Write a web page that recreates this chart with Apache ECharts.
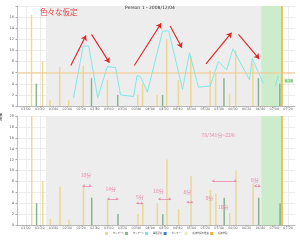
<!DOCTYPE html>
<html><head><meta charset="utf-8">
<script src="https://cdn.jsdelivr.net/npm/echarts@6/dist/echarts.min.js"></script>
<style>html,body{margin:0;padding:0;background:#fff}#c{width:300px;height:241px}</style>
</head><body><div id="c"></div>
<script>
// ---- data ----
const tickLabels = ['01:00','01:20','01:40','02:00','02:20','02:40','03:00','03:20','03:40','04:00','04:20','04:40','05:00','05:20','05:40','06:00','06:20','06:40','07:00','07:20'];
const xStart = '00:47', xEnd = '07:30';
const sleepStart = '01:29', wakeStart = '06:41', wakeEnd = '07:11';
const threshold = 6;
const sensor1 = [['01:08',16.4],['01:24',8],['01:35',1.1],['01:49',7],['02:02',1],['02:23',7.2],['02:58',4.7],['03:42',2],['03:49',4],['04:10',2],['04:24',12],['04:41',4.7],['04:59',9],['05:27',6.4],['05:35',5.8],['05:55',2.2],['06:04',10],['06:29',7.6]];
const sensor1Bottom = [['01:08',21],['01:24',8],['01:35',1.1],['01:49',7],['02:02',1],['02:23',7.2],['02:58',4.7],['03:42',2],['03:49',4],['04:10',4],['04:24',12],['04:41',2.9],['04:59',9],['05:27',6.4],['05:35',5.8],['05:55',2.2],['06:04',10],['06:29',7.6]];
const sensor2 = [['01:15',4],['02:35',5],['03:13',2],['04:18',2],['05:47',5],['06:37',5],['07:08',4]];
const depth = [['02:09',1.5],['02:23',10.8],['02:31',10.8],['02:44',1.5],['02:58',7.1],['03:10',6.9],['03:17',2],['03:36',1.7],['03:41',5.5],['03:46',5.3],['03:56',2.5],['04:18',13.5],['04:27',13.5],['04:47',3],['04:57',9.6],['05:10',3.4],['05:27',3.6],['05:39',8],['05:51',6.5],['06:00',10.3],['06:24',4.7],['06:28',8.5],['06:44',4.1],null,['07:01',3.5],['07:06',5.5]];
const endTag = ['07:21', 4.5, '6.28'];
const redArrows = [[['02:05',7.3],['02:27',12.7]],[['02:35',12.9],['03:01',7.8]],[['03:37',7.3],['04:16',14.9]],[['04:29',14.4],['04:46',10.5]],[['05:21',7.6],['05:58',13.2]],[['06:08',12.9],['06:38',8.5]]];
const gapArrows = [[['02:22',7.2],['02:35',7.2]],[['02:58',4.8],['03:14',4.8]],[['03:40',4.0],['03:50',4.0]],[['04:12',4.8],['04:30',4.8]],[['04:53',4.2],['05:02',4.2]],[['05:30',8.1],['06:05',8.1]],[['06:31',7.2],['06:40',7.2]]];
const gapLabels = [['02:27',9.2,'10分'],['03:03',6.6,'14分'],['03:45',5.1,'5分'],['04:12',6.3,'18分'],['04:54',6.1,'8分'],['05:26',5.0,'8分'],['05:46',3.3,'10分'],['06:32',8.3,'8分'],['05:39',16.5,'78/341分=22%']];
const legendNames = ['センサー1','センサー2','睡眠深度','センサー―','起床時間の推移','起床時間'];

// ---- helpers ----
const toMin = s => { const p = s.split(':'); return (+p[0])*60 + (+p[1]); };
const fmt = v => { const h = Math.floor(v/60), m = Math.round(v%60); return String(h).padStart(2,'0')+':'+String(m).padStart(2,'0'); };
const pts = arr => arr.map(d => d ? [toMin(d[0]), d[1]] : null);
const tickVals = tickLabels.map(toMin);

const chart = echarts.init(document.getElementById('c'));
const grids = [
  {left:17, right:5, top:6, height:100},
  {left:17, right:5, top:116, height:109}
];
function xAxis(i){
  return {type:'value', gridIndex:i, min:toMin(xStart), max:toMin(xEnd),
    axisLine:{lineStyle:{color:'#aaa', width:0.8}},
    axisTick:{show:true, customValues:tickVals, length:1.5, lineStyle:{color:'#aaa'}},
    axisLabel:{customValues:tickVals, formatter:fmt, fontSize:3.3, color:'#555', margin:2, fontFamily:'DejaVu Sans', hideOverlap:false},
    splitLine:{show:true, lineStyle:{color:'#e0e0e0', width:0.6}}};
}
function yAxis(i, max){
  return {type:'value', gridIndex:i, min:0, max:max, interval:2,
    axisLine:{show:true, lineStyle:{color:'#aaa', width:0.8}},
    axisTick:{show:true, length:1.5, lineStyle:{color:'#aaa'}},
    axisLabel:{fontSize:3.5, color:'#555', margin:3, fontFamily:'DejaVu Sans', formatter: v => (max===18 && v===18) ? '' : String(v)},
    splitLine:{show:true, lineStyle:{color:'#e0e0e0', width:0.6}}};
}
function bgSeries(i){
  return {type:'line', xAxisIndex:i, yAxisIndex:i, data:[], z:-1, silent:true,
    markArea:{silent:true, data:[
      [{xAxis:toMin(sleepStart), itemStyle:{color:'#ededed'}},{xAxis:toMin(wakeStart)}],
      [{xAxis:toMin(wakeStart), itemStyle:{color:'#cdeccb'}},{xAxis:toMin(wakeEnd)}]
    ]},
    markLine:{silent:true, symbol:'none', label:{show:false}, lineStyle:{color:'#f0b030', width:1.5, type:'solid'},
      data:[{xAxis:toMin(wakeEnd)}]}
  };
}
const barCommon = {type:'bar', barWidth:1.5, barGap:'-100%', silent:true};
const series = [
  bgSeries(0), bgSeries(1),
  Object.assign({}, barCommon, {name:legendNames[0], xAxisIndex:0, yAxisIndex:0, data:pts(sensor1), itemStyle:{color:'#ecd382', opacity:0.85}}),
  Object.assign({}, barCommon, {name:legendNames[1], xAxisIndex:0, yAxisIndex:0, data:pts(sensor2), itemStyle:{color:'#74a87c', opacity:0.85}}),
  Object.assign({}, barCommon, {name:legendNames[0], xAxisIndex:1, yAxisIndex:1, data:pts(sensor1Bottom), itemStyle:{color:'#ecd382', opacity:0.85}}),
  Object.assign({}, barCommon, {name:legendNames[1], xAxisIndex:1, yAxisIndex:1, data:pts(sensor2), itemStyle:{color:'#74a87c', opacity:0.85}}),
  {type:'line', name:legendNames[2], xAxisIndex:0, yAxisIndex:0, data:pts(depth), symbol:'none', connectNulls:false,
   lineStyle:{color:'#74e6e6', width:0.9}, itemStyle:{color:'#74e6e6'}, silent:true,
   markLine:{silent:true, symbol:'none', label:{show:false}, lineStyle:{color:'#f5c98a', width:1.6, type:'solid', opacity:0.7},
     data:[{yAxis:threshold}]},
   markPoint:{silent:true, symbol:'rect', symbolSize:[9,4.5], itemStyle:{color:'#c5ecc5'},
     label:{show:true, color:'#3a9a3a', fontSize:3.5, formatter: p => p.name, fontFamily:'DejaVu Sans'},
     data:[{name:endTag[2], coord:[toMin(endTag[0]), endTag[1]]}]}},
  {type:'line', name:'arrows', xAxisIndex:0, yAxisIndex:0, data:[], silent:true,
   markLine:{silent:true, symbol:['none','arrow'], symbolSize:5, label:{show:false}, lineStyle:{color:'#e02424', width:1.1, type:'solid'},
     data: redArrows.map(a => [{coord:[toMin(a[0][0]),a[0][1]]},{coord:[toMin(a[1][0]),a[1][1]]}])}},
  {type:'line', name:'gaps', xAxisIndex:1, yAxisIndex:1, data:[], silent:true,
   markLine:{silent:true, symbol:['arrow','arrow'], symbolSize:2.5, label:{show:false}, lineStyle:{color:'#e88aa8', width:0.8, type:'solid'},
     data: gapArrows.map(a => [{coord:[toMin(a[0][0]),a[0][1]]},{coord:[toMin(a[1][0]),a[1][1]]}])},
   markPoint:{silent:true, symbol:'circle', symbolSize:0,
     label:{show:true, color:'#e88aa8', fontSize:5, formatter: p => p.name, fontFamily:'Noto Sans CJK JP'},
     data: gapLabels.map(g => ({name:g[2], coord:[toMin(g[0]), g[1]]}))}},
  {type:'bar', name:legendNames[3], xAxisIndex:1, yAxisIndex:1, data:[], itemStyle:{color:'#3a7fd0'}},
  {type:'line', name:legendNames[4], xAxisIndex:1, yAxisIndex:1, data:[], itemStyle:{color:'#f3e7c6'}},
  {type:'bar', name:legendNames[5], xAxisIndex:1, yAxisIndex:1, data:[], itemStyle:{color:'#f0b030'}}
];
chart.setOption({
  animation:false,
  backgroundColor:'#fff',
  title:{text:'Person 1 - 2008/12/04', left:'center', top:0, textStyle:{fontSize:4.5, fontWeight:'normal', color:'#333', fontFamily:'DejaVu Sans'}},
  legend:{data:legendNames.map(n=>({name:n, icon:'rect'})), bottom:1, left:100, itemWidth:3, itemHeight:3, itemGap:1.5,
    textStyle:{fontSize:2.3, color:'#555', fontFamily:'Noto Sans CJK JP'}},
  graphic:[
    {type:'text', x:40, y:8, z:100, style:{text:'色々な仮定', fill:'#e04848', fontSize:7.5, fontFamily:'Noto Sans CJK JP'}},
    {type:'text', x:2, y:113, z:100, rotation:-Math.PI/2, style:{text:'睡眠', fill:'#333', fontSize:4, fontFamily:'Noto Sans CJK JP'}}
  ],
  grid:grids,
  xAxis:[xAxis(0), xAxis(1)],
  yAxis:[yAxis(0,18), yAxis(1,20)],
  series:series
});
</script></body></html>
